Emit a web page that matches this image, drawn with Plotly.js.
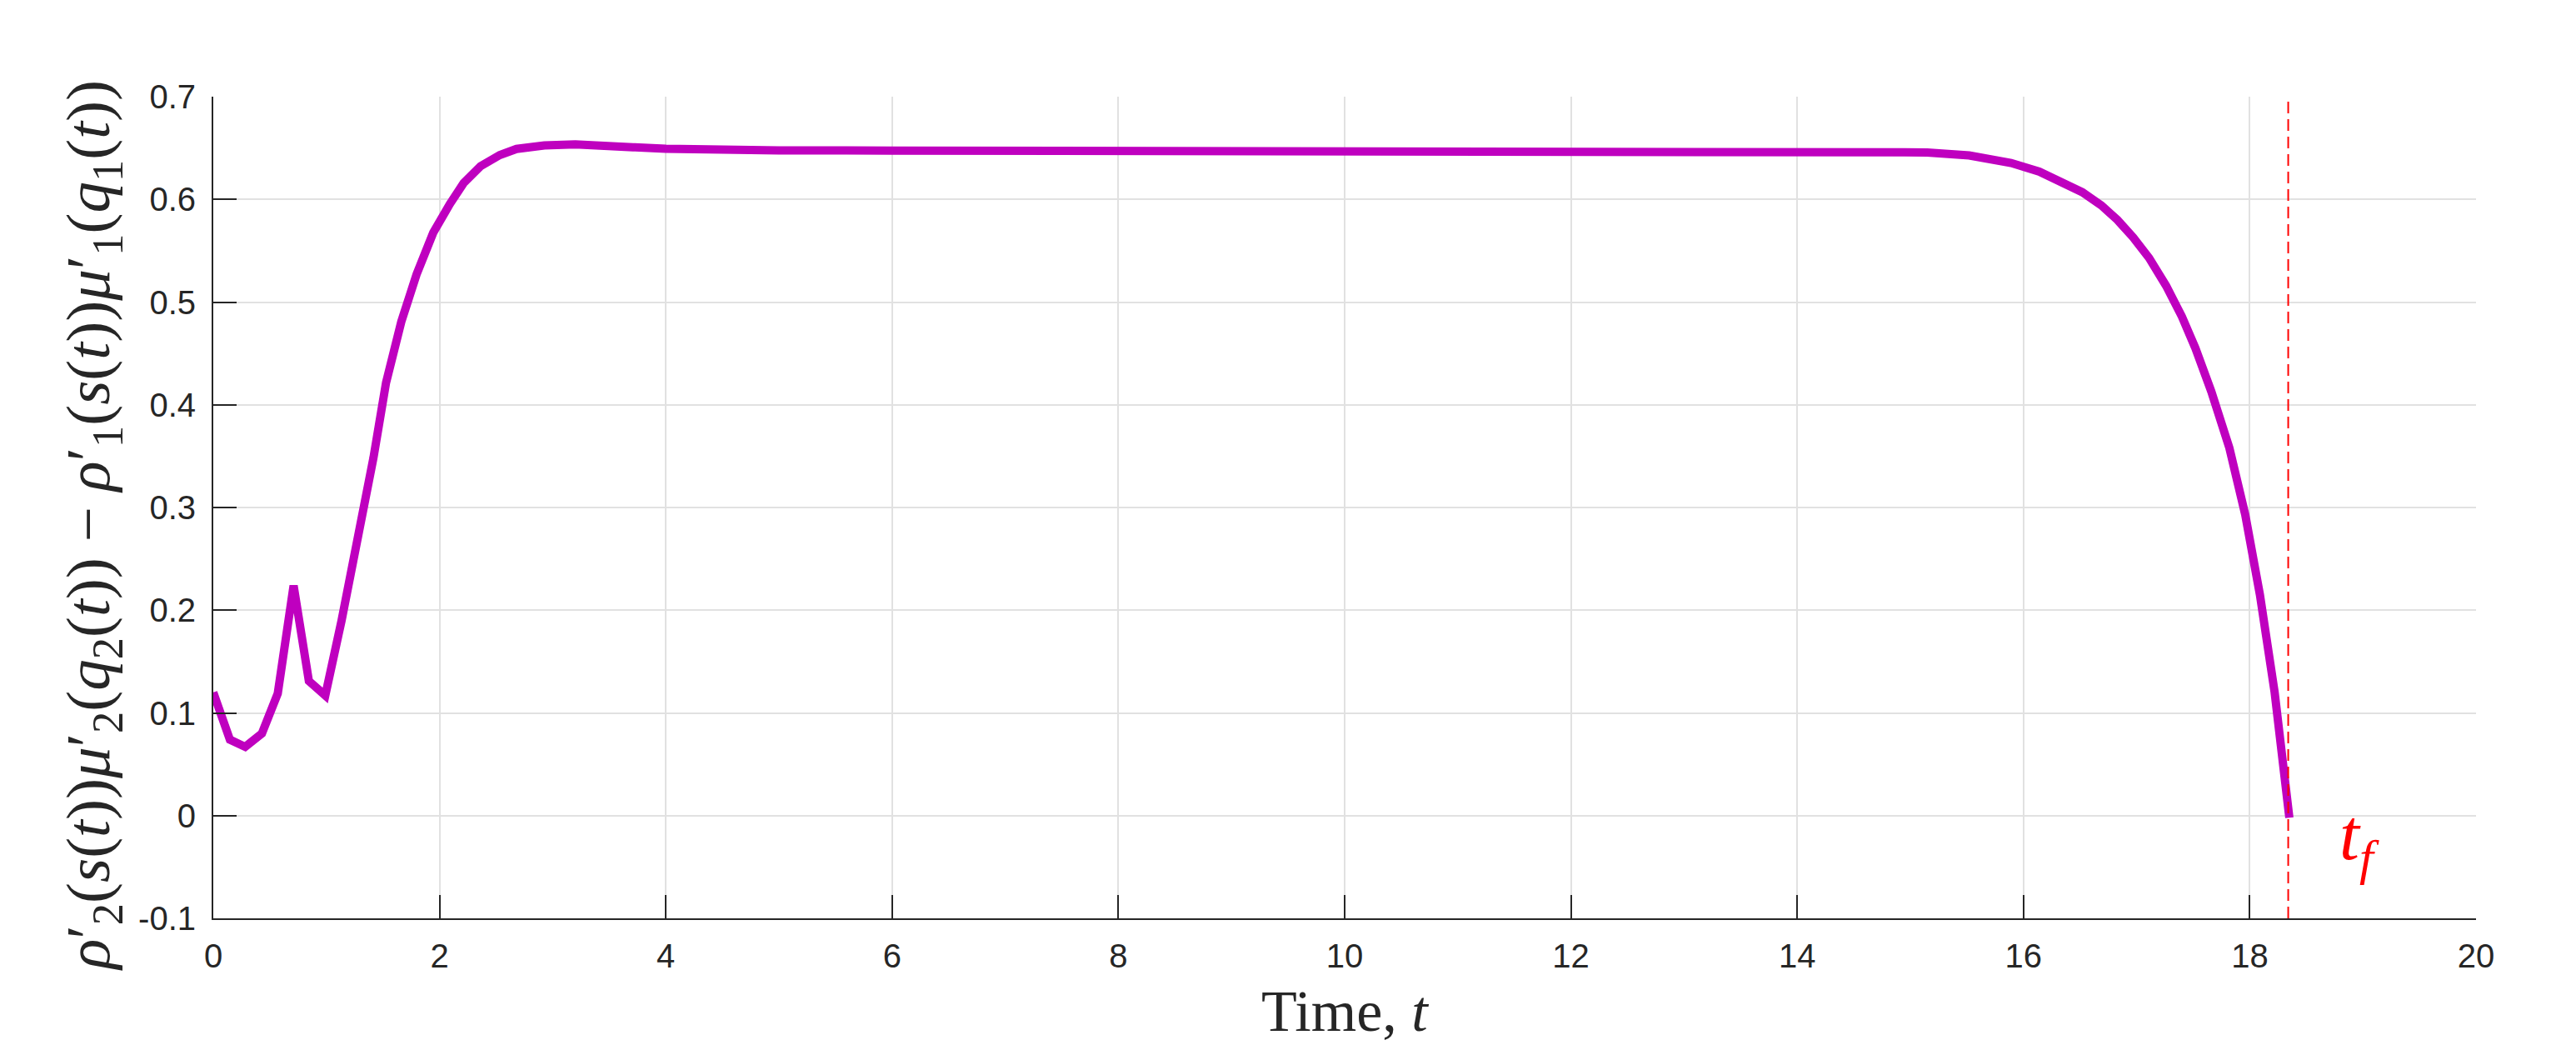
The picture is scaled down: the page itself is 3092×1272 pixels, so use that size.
<!DOCTYPE html>
<html>
<head>
<meta charset="utf-8">
<script src="https://cdn.plot.ly/plotly-3.0.1.min.js"></script>
<style>html,body{margin:0;padding:0;background:#fff;}#chart{width:3092px;height:1272px;}</style>
</head>
<body>
<div id="chart"></div>
<script>
// time samples
var timeT = [0, 0.147, 0.282, 0.43, 0.57, 0.71, 0.845, 0.99, 1.134, 1.28, 1.416, 1.527, 1.662, 1.797, 1.944, 2.091, 2.214, 2.362, 2.533, 2.68, 2.926, 3.2, 3.417, 3.71, 4.0, 4.5, 5.0, 6.0, 8.0, 10.0, 12.0, 13.44, 14.0, 14.66, 15.15, 15.52, 15.89, 16.14, 16.38, 16.52, 16.69, 16.83, 16.97, 17.11, 17.26, 17.40, 17.52, 17.66, 17.82, 17.96, 18.09, 18.22, 18.35];
// rho2' mu2' - rho1' mu1' values
var diffValues = [0.120, 0.074, 0.067, 0.080, 0.119, 0.224, 0.131, 0.117, 0.190, 0.272, 0.3485, 0.4215, 0.481, 0.527, 0.5675, 0.5955, 0.616, 0.6323, 0.6432, 0.6491, 0.6526, 0.6535, 0.6530, 0.6508, 0.6492, 0.6482, 0.6477, 0.6475, 0.6475, 0.6475, 0.6475, 0.6474, 0.6471, 0.6467, 0.6457, 0.6428, 0.6355, 0.627, 0.615, 0.607, 0.594, 0.580, 0.563, 0.543, 0.516, 0.486, 0.455, 0.413, 0.358, 0.293, 0.215, 0.120, -0.002];
// final time marker
var tFinal = 18.34;
var markerYRange = [-0.1, 0.7];
// axis ticks
var xTickVals = [0, 2, 4, 6, 8, 10, 12, 14, 16, 18, 20];
var xTickText = ['0', '2', '4', '6', '8', '10', '12', '14', '16', '18', '20'];
var yTickVals = [-0.1, 0, 0.1, 0.2, 0.3, 0.4, 0.5, 0.6, 0.7];
var yTickText = ['-0.1', '0', '0.1', '0.2', '0.3', '0.4', '0.5', '0.6', '0.7'];

var axisColor = '#262626';
var gridColor = '#e1e1e1';
var tickFont = {family: 'Liberation Sans, Arial, sans-serif', size: 40, color: axisColor};
var serif = 'Liberation Serif, Times New Roman, serif';

var traces = [
  {
    x: timeT, y: diffValues, type: 'scatter', mode: 'lines',
    line: {color: '#BF00BF', width: 10}, hoverinfo: 'skip', showlegend: false
  },
  {
    x: [tFinal, tFinal], y: markerYRange, type: 'scatter', mode: 'lines',
    line: {color: '#FF0000', width: 2, dash: '14px,7px'}, hoverinfo: 'skip', showlegend: false
  }
];

var layout = {
  width: 3092, height: 1272,
  paper_bgcolor: '#fff', plot_bgcolor: '#fff',
  margin: {l: 256, r: 120, t: 116, b: 170, pad: 0},
  showlegend: false,
  xaxis: {
    range: [0, 20], tickmode: 'array', tickvals: xTickVals, ticktext: xTickText,
    ticks: 'inside', ticklen: 28, tickwidth: 2, tickcolor: axisColor,
    showline: true, linecolor: axisColor, linewidth: 2, mirror: false,
    showgrid: true, gridcolor: gridColor, gridwidth: 2, zeroline: false,
    tickfont: tickFont, ticklabelstandoff: 9, fixedrange: true
  },
  yaxis: {
    range: [-0.1, 0.7], tickmode: 'array', tickvals: yTickVals, ticktext: yTickText,
    ticks: 'inside', ticklen: 28, tickwidth: 2, tickcolor: axisColor,
    showline: true, linecolor: axisColor, linewidth: 2, mirror: false,
    showgrid: true, gridcolor: gridColor, gridwidth: 2, zeroline: false,
    tickfont: tickFont, ticklabelstandoff: 11, fixedrange: true
  },
  annotations: [
    {
      xref: 'paper', yref: 'paper', x: 0.5, y: 0, xanchor: 'center', yanchor: 'top', yshift: -71,
      text: 'Time, <i>t</i>', showarrow: false,
      font: {family: serif, size: 70, color: axisColor}
    },
    {
      xref: 'paper', yref: 'paper', x: 0, y: 0.478, xanchor: 'center', yanchor: 'middle', xshift: -145,
      textangle: -90, showarrow: false,
      text: '<i>ρ</i>′<sub>2</sub>(<i>s</i>(<i>t</i>))<i>μ</i>′<sub>2</sub>(<i>q</i><sub>2</sub>(<i>t</i>)) − <i>ρ</i>′<sub>1</sub>(<i>s</i>(<i>t</i>))<i>μ</i>′<sub>1</sub>(<i>q</i><sub>1</sub>(<i>t</i>))',
      font: {family: serif, size: 75, color: axisColor}
    },
    {
      xref: 'x', yref: 'y', x: 18.78, y: -0.024, xanchor: 'left', yanchor: 'middle',
      text: '<i>t</i><sub><i>f</i></sub>', showarrow: false,
      font: {family: serif, size: 86, color: '#FF0000'}
    }
  ]
};

Plotly.newPlot('chart', traces, layout, {displayModeBar: false, staticPlot: true});
</script>
</body>
</html>
